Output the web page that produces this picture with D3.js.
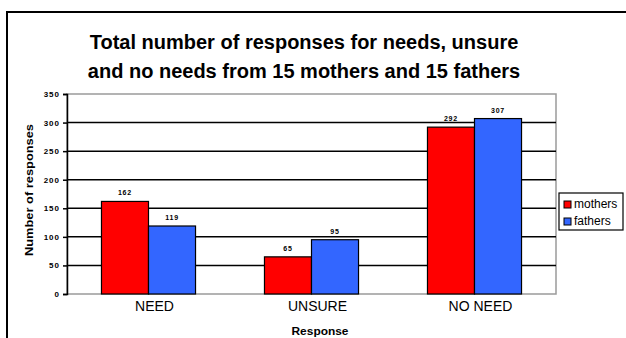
<!DOCTYPE html>
<html>
<head>
<meta charset="utf-8">
<script src="https://cdn.jsdelivr.net/npm/d3@7"></script>
<style>
  html, body { margin: 0; padding: 0; background: #fff; }
  svg { display: block; font-family: "Liberation Sans", Arial, sans-serif; }
</style>
</head>
<body>
<svg id="chart" width="626" height="338"></svg>
<script>
// Response categories and totals per parent group
const categories = ["NEED", "UNSURE", "NO NEED"];
const seriesNames = ["mothers", "fathers"];
const mothers = [162, 65, 292];
const fathers = [119, 95, 307];
const yTicks = [0, 50, 100, 150, 200, 250, 300, 350];
const titleLines = [
  "Total number of responses for needs, unsure",
  "and no needs from 15 mothers and 15 fathers"
];

const colors = { mothers: "#ff0000", fathers: "#3366ff" };
const svg = d3.select("#chart");

// outer chart frame
svg.append("rect")
  .attr("x", 7).attr("y", 12)
  .attr("width", 640).attr("height", 340)
  .attr("fill", "#fff").attr("stroke", "#000").attr("stroke-width", 2);

// title
svg.append("g").selectAll("text").data(titleLines).join("text")
  .attr("x", 304)
  .attr("y", (d, i) => 49 + i * 29)
  .attr("text-anchor", "middle")
  .attr("font-size", 20).attr("font-weight", "bold")
  .text(d => d);

const plot = { left: 67, right: 556, top: 94, bottom: 294 };

const y = d3.scaleLinear().domain([0, 350]).range([plot.bottom, plot.top]);
const x = d3.scaleBand().domain(categories)
  .range([plot.left, plot.right])
  .paddingInner(0.423).paddingOuter(0.2115);
const xs = d3.scaleBand().domain(seriesNames).range([0, x.bandwidth()]);

// plot area border (grey)
svg.append("rect")
  .attr("x", plot.left).attr("y", plot.top)
  .attr("width", plot.right - plot.left).attr("height", plot.bottom - plot.top)
  .attr("fill", "none").attr("stroke", "#9a9a9a").attr("stroke-width", 1.5);

// horizontal gridlines
svg.append("g").selectAll("line")
  .data(yTicks.filter(t => t > 0 && t < 350)).join("line")
  .attr("x1", plot.left).attr("x2", plot.right)
  .attr("y1", d => y(d)).attr("y2", d => y(d))
  .attr("stroke", "#000").attr("stroke-width", 1.5);

// bars
const rows = categories.map((c, i) => ({ cat: c, vals: [
  { key: "mothers", value: mothers[i] },
  { key: "fathers", value: fathers[i] }
]}));

const groups = svg.append("g").selectAll("g").data(rows).join("g")
  .attr("transform", d => `translate(${x(d.cat)},0)`);

groups.selectAll("rect").data(d => d.vals).join("rect")
  .attr("x", d => xs(d.key))
  .attr("y", d => y(d.value))
  .attr("width", xs.bandwidth())
  .attr("height", d => y(0) - y(d.value))
  .attr("fill", d => colors[d.key])
  .attr("stroke", "#000").attr("stroke-width", 1.2);

groups.selectAll("text").data(d => d.vals).join("text")
  .attr("x", d => xs(d.key) + xs.bandwidth() / 2)
  .attr("y", d => y(d.value) - 6)
  .attr("text-anchor", "middle")
  .attr("font-size", 7).attr("font-weight", "bold")
  .attr("letter-spacing", 0.8)
  .text(d => d.value);

// y axis
const yAxis = svg.append("g")
  .attr("transform", `translate(${plot.left},0)`)
  .call(d3.axisLeft(y).tickValues(yTicks).tickSize(4).tickPadding(3));
yAxis.select(".domain").attr("stroke", "#000").attr("stroke-width", 1.5);
yAxis.selectAll(".tick line").attr("stroke", "#000").attr("stroke-width", 1.5);
yAxis.selectAll(".tick text")
  .attr("font-size", 8).attr("font-weight", "bold")
  .attr("letter-spacing", 1)
  .attr("font-family", "Liberation Sans, Arial, sans-serif").attr("fill", "#000");

// x axis labels
const xAxis = svg.append("g")
  .attr("transform", `translate(0,${plot.bottom})`)
  .call(d3.axisBottom(x).tickSize(0).tickPadding(7));
xAxis.select(".domain").remove();
xAxis.selectAll(".tick text")
  .attr("dx", 6)
  .attr("font-size", 14).attr("font-family", "Liberation Sans, Arial, sans-serif")
  .attr("fill", "#000");

// axis titles
svg.append("text")
  .attr("x", 320).attr("y", 335)
  .attr("text-anchor", "middle")
  .attr("font-size", 10).attr("font-weight", "bold")
  .attr("textLength", 57).attr("lengthAdjust", "spacingAndGlyphs")
  .text("Response");

svg.append("text")
  .attr("transform", "translate(33,190) rotate(-90)")
  .attr("text-anchor", "middle")
  .attr("font-size", 10).attr("font-weight", "bold")
  .attr("textLength", 132).attr("lengthAdjust", "spacingAndGlyphs")
  .text("Number of responses");

// legend
const legend = svg.append("g").attr("transform", "translate(559,193)");
legend.append("rect")
  .attr("width", 64).attr("height", 37)
  .attr("fill", "#fff").attr("stroke", "#000").attr("stroke-width", 1.2);
const items = legend.selectAll("g").data(seriesNames).join("g")
  .attr("transform", (d, i) => `translate(5,${8 + i * 17})`);
items.append("rect")
  .attr("width", 7).attr("height", 7)
  .attr("fill", d => colors[d]).attr("stroke", "#000").attr("stroke-width", 1);
items.append("text")
  .attr("x", 10).attr("y", 7)
  .attr("font-size", 12)
  .text(d => d);
</script>
</body>
</html>
